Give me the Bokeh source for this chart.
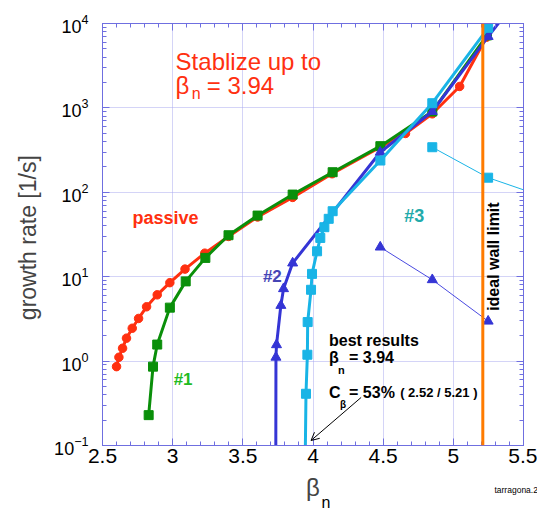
import math
from bokeh.plotting import figure
from bokeh.models import (Label, Span, Arrow, OpenHead, LinearAxis, LogAxis,
                          FixedTicker, SingleIntervalTicker, CustomJSTickFormatter)
from bokeh.embed import file_html
from bokeh.resources import INLINE

# ---- growth rate [1/s] versus beta_n ----
# passive (no feedback)
passive_beta = [2.600, 2.617, 2.643, 2.671, 2.712, 2.757, 2.814, 2.890, 2.980, 3.088,
                3.229, 3.398, 3.605, 3.855, 4.136, 4.479, 4.659, 4.850, 5.045, 5.236]
passive_rate = [0.86, 1.11, 1.42, 1.87, 2.45, 3.2, 4.4, 6.1, 8.5, 12.3,
                19.0, 30.0, 51.0, 87.0, 166.0, 342.0, 498.0, 851.0, 1795.0, 6880.0]

# feedback case #1
c1_beta = [2.829, 2.860, 2.890, 2.980, 3.093, 3.233, 3.398, 3.605, 3.855, 4.140,
           4.480, 4.850, 5.240]
c1_rate = [0.229, 0.86, 1.57, 4.3, 8.8, 16.7, 31.0, 53.0, 94.0, 173.0,
           352.0, 906.0, 7220.0]

# feedback case #2 (main branch and second mode)
c2_beta = [3.735, 3.736, 3.740, 3.771, 3.790, 3.855, 4.479, 4.850, 5.248, 5.400]
c2_rate = [0.08, 1.11, 1.56, 4.56, 7.2, 14.5, 298.0, 906.0, 7010.0, 14800.0]
c2b_beta = [4.479, 4.850, 5.248]
c2b_rate = [22.4, 9.2, 2.97]

# feedback case #3 (main branch and second mode)
c3_beta = [3.945, 3.950, 3.960, 3.962, 3.986, 3.993, 4.029, 4.052, 4.081, 4.112,
           4.140, 4.480, 4.850, 5.248]
c3_rate = [0.08, 0.41, 1.19, 2.9, 7.0, 10.8, 20.0, 28.8, 38.6, 48.5,
           59.7, 238.0, 1137.0, 8890.0]
c3b_beta = [4.850, 5.248, 5.500]
c3b_rate = [342.0, 149.0, 107.0]

ideal_wall_beta = 5.21

y_major = [0.1, 1, 10, 100, 1000, 10000]

RED = "#ff3010"
GREEN = "#0a8f0a"
BLUE = "#3535d5"
CYAN = "#19b4e6"
ORANGE = "#ff7b00"
FRAME = "#6f6fe0"
FONT = "Liberation Sans"

p = figure(width=537, height=509, x_range=(2.5, 5.5), y_range=(0.1, 1e4),
           y_axis_type="log", output_backend="svg", toolbar_location=None,
           min_border_left=102, min_border_right=14, min_border_top=23,
           min_border_bottom=64)
p.background_fill_color = "white"
p.border_fill_color = "white"
p.outline_line_color = FRAME
p.outline_line_width = 1

y_minor = [m * d for d in [0.1, 1, 10, 100, 1000] for m in range(2, 10)]
yticker = FixedTicker(ticks=y_major, minor_ticks=y_minor)
xticker = SingleIntervalTicker(interval=0.5, num_minor_ticks=5)

p.xaxis.ticker = xticker
p.yaxis.ticker = yticker
p.xgrid.ticker = xticker
p.ygrid.ticker = yticker
for g in (p.xgrid, p.ygrid):
    g.grid_line_color = "#a8a8ee"
    g.grid_line_dash = "1 1"
    g.grid_line_width = 1

p.xaxis.formatter = CustomJSTickFormatter(code="return tick.toString();")

for ax in (p.xaxis, p.yaxis):
    ax.axis_line_color = FRAME
    ax.major_tick_line_color = FRAME
    ax.minor_tick_line_color = FRAME
    ax.major_tick_in = 7
    ax.major_tick_out = 0
    ax.minor_tick_in = 4
    ax.minor_tick_out = 0
    ax.major_label_text_font = FONT
    ax.major_label_text_color = "black"

p.xaxis.major_label_text_font_size = "21px"
p.xaxis.major_label_standoff = 3
p.xaxis.axis_label = "\u03b2"
p.xaxis.axis_label_text_font = FONT
p.xaxis.axis_label_text_font_size = "24px"
p.xaxis.axis_label_text_font_style = "normal"
p.xaxis.axis_label_standoff = 8

p.yaxis.major_label_text_font_size = "18px"
p.yaxis.major_label_standoff = 14
p.yaxis.axis_label = "growth rate  [1/s]"
p.yaxis.axis_label_text_font = FONT
p.yaxis.axis_label_text_font_size = "23px"
p.yaxis.axis_label_text_font_style = "normal"
p.yaxis.axis_label_standoff = 10

# mirrored axes on top and right, ticks only
blank = CustomJSTickFormatter(code="return '';")
top = LinearAxis(ticker=xticker, formatter=blank)
right = LogAxis(ticker=yticker, formatter=blank)
for ax in (top, right):
    ax.axis_line_color = FRAME
    ax.major_tick_line_color = FRAME
    ax.minor_tick_line_color = FRAME
    ax.major_tick_in = 7
    ax.major_tick_out = 0
    ax.minor_tick_in = 4
    ax.minor_tick_out = 0
    ax.major_label_standoff = 0
p.add_layout(top, "above")
p.add_layout(right, "right")

# curves
p.line(passive_beta, passive_rate, line_color=RED, line_width=3)
p.scatter(passive_beta, passive_rate, marker="circle", size=8.5, fill_color=RED, line_color=RED)

p.line(c1_beta, c1_rate, line_color=GREEN, line_width=3)
p.scatter(c1_beta, c1_rate, marker="square", size=9, fill_color=GREEN, line_color=GREEN)

p.line(c2_beta, c2_rate, line_color=BLUE, line_width=3)
p.scatter(c2_beta, c2_rate, marker="triangle", size=10, fill_color=BLUE, line_color=BLUE)
p.line(c2b_beta, c2b_rate, line_color="#4a4ae0", line_width=1)
p.scatter(c2b_beta, c2b_rate, marker="triangle", size=10, fill_color=BLUE, line_color=BLUE)

p.line(c3_beta, c3_rate, line_color=CYAN, line_width=3)
p.scatter(c3_beta, c3_rate, marker="square", size=9, fill_color=CYAN, line_color=CYAN)
p.line(c3b_beta, c3b_rate, line_color=CYAN, line_width=1)
p.scatter(c3b_beta[:2], c3b_rate[:2], marker="square", size=9, fill_color=CYAN, line_color=CYAN)

p.add_layout(Span(location=ideal_wall_beta, dimension="height", line_color=ORANGE, line_width=3))


def label(x, y, text, size, color="black", style="normal", place="center", **kw):
    p.add_layout(Label(x=x, y=y, text=text, text_font=FONT, text_font_size=size,
                       text_color=color, text_font_style=style,
                       text_baseline="alphabetic", **kw), place)


# headline
label(3.021, 3550, "Stablize up to", "24px", RED)
label(3.021, 1841, "\u03b2", "24px", RED)
label(3.136, 1483, "n", "16px", RED)
label(3.243, 1841, "= 3.94", "24px", RED)

# curve names
label(2.714, 50.2, "passive", "18px", RED, "bold")
label(3.007, 0.605, "#1", "17px", "#22bb22", "bold")
label(3.643, 10.05, "#2", "17px", "#4545b5", "bold")
label(4.650, 53.1, "#3", "18px", "#22aaaa", "bold")

# best result note
label(4.114, 1.754, "best results", "16px", "black", "bold")
label(4.114, 1.104, "\u03b2", "16px", "black", "bold")
label(4.179, 0.774, "n", "11px", "black", "bold")
label(4.257, 1.104, "= 3.94", "16px", "black", "bold")
label(4.114, 0.4246, "C", "16px", "black", "bold")
label(4.193, 0.306, "\u03b2", "10px", "black", "bold")
label(4.257, 0.4246, "= 53%", "16px", "black", "bold")
label(4.621, 0.4246, "( 2.52 / 5.21 )", "13px", "black", "bold")
p.add_layout(Arrow(end=OpenHead(size=8, line_color="black", line_width=1),
                   x_start=4.343, y_start=0.371, x_end=3.986, y_end=0.1146,
                   line_color="black", line_width=1))

# ideal wall limit
label(5.285, 17.3, "ideal wall limit", "16px", "black", "bold",
      angle=math.pi / 2, text_align="center")

# texts under the frame live in side panels so they are not clipped
label(4.060, 0.0211, "n", "16px", place="right")
label(5.293, 0.0293, "tarragona.2", "8.5px", place="above")

open("out.html", "w").write(file_html(p, INLINE))
